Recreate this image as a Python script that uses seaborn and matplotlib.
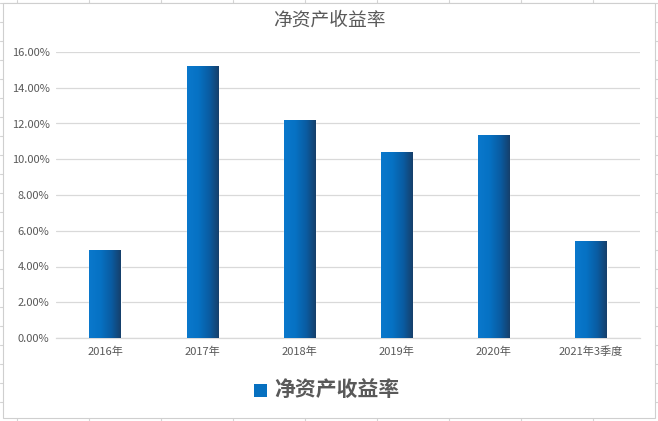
import numpy as np
import pandas as pd
import matplotlib
matplotlib.use("Agg")
import matplotlib.pyplot as plt
from matplotlib.colors import LinearSegmentedColormap
from matplotlib.patches import Rectangle
from matplotlib.ticker import PercentFormatter, MultipleLocator
import seaborn as sns

# ─── Data ────────────────────────────────────────────────────────────────────
periods = ["2016年", "2017年", "2018年", "2019年", "2020年", "2021年3季度"]
roe = [0.0492, 0.1522, 0.1220, 0.1040, 0.1136, 0.0543]
series_name = "净资产收益率"

sns.set_theme(style="white")
plt.rcParams["font.family"] = ["Noto Sans CJK SC", "DejaVu Sans"]

W, H = 658, 421
fig = plt.figure(figsize=(W / 100, H / 100), dpi=100)

# spreadsheet cells behind the chart
bg = fig.add_axes([0, 0, 1, 1], zorder=0)
bg.set_xlim(0, W)
bg.set_ylim(H, 0)
bg.axis("off")
for x in range(17, W, 72):
    bg.axvline(x, color="#d4d4d4", lw=0.8, zorder=1)
for y in range(3, H, 19):
    bg.axhline(y, color="#d4d4d4", lw=0.8, zorder=1)
bg.add_patch(Rectangle((3, 3), 652, 415, facecolor="white",
                       edgecolor="#cfcfcf", lw=0.8, zorder=5))

# ─── Bars ────────────────────────────────────────────────────────────────────
df = pd.DataFrame({"period": periods, "roe": roe})
ax = fig.add_axes([56.4 / W, 1 - 338 / H, (639.6 - 56.4) / W, (338 - 52) / H], zorder=1)
ax.patch.set_alpha(0)
sns.barplot(data=df, x="period", y="roe", color="#0070c0", width=0.32,
            ax=ax, zorder=2)

# horizontal gradient on each bar (bright blue -> navy)
cmap = LinearSegmentedColormap.from_list(
    "bar", [(0, "#0a78cc"), (0.35, "#0672c4"), (0.7, "#0a5ca2"), (1, "#163f6a")])
grad = np.linspace(0, 1, 256).reshape(1, -1)
for bar in ax.patches:
    x0, y0 = bar.get_x(), bar.get_y()
    w, h = bar.get_width(), bar.get_height()
    im = ax.imshow(grad, cmap=cmap, aspect="auto", extent=[x0, x0 + w, y0, y0 + h],
                   zorder=3, interpolation="bilinear")
    im.set_clip_path(bar)

ax.set_xlim(-0.5, len(periods) - 0.5)
ax.set_ylim(0, 0.16)
ax.yaxis.set_major_locator(MultipleLocator(0.02))
ax.yaxis.set_major_formatter(PercentFormatter(1.0, decimals=2))
ax.grid(axis="y", color="#d9d9d9", lw=0.9, zorder=0)
ax.set_axisbelow(True)
for side in ["left", "right", "top"]:
    ax.spines[side].set_visible(False)
ax.spines["bottom"].set_color("#d9d9d9")
ax.spines["bottom"].set_linewidth(0.9)
ax.tick_params(axis="both", length=0, labelsize=8, labelcolor="#595959", pad=6)
ax.tick_params(axis="y", pad=5)
ax.set_xlabel("")
ax.set_ylabel("")

# ─── Title and legend ────────────────────────────────────────────────────────
fig.text(329 / W, 1 - 20 / H, series_name, ha="center", va="center",
         fontsize=13.5, color="#595959")
fig.patches.append(Rectangle((254 / W, 1 - 397 / H), 13 / W, 13 / H,
                             transform=fig.transFigure, facecolor="#0670c0",
                             edgecolor="none", figure=fig))
fig.text(274 / W, 1 - 390 / H, series_name, ha="left", va="center",
         fontsize=15, color="#595959", fontweight="bold")

fig.savefig("out.png", dpi=100)
